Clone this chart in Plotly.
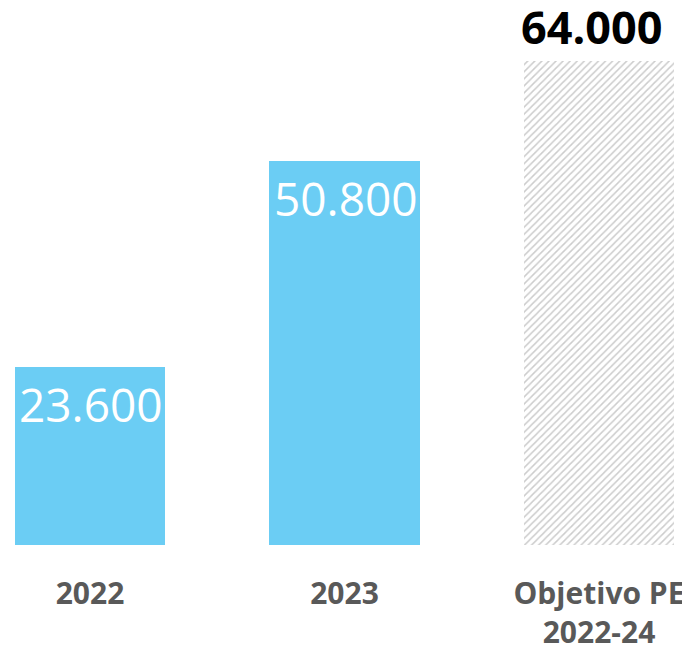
import plotly.graph_objects as go

categories = ["2022", "2023", "Objetivo PE<br>2022-24"]
values = [23600, 50800, 64000]
value_labels = ["23.600", "50.800", "64.000"]

x = list(range(len(categories)))
blue = "#6BCDF4"

fig = go.Figure()
fig.add_trace(go.Bar(
    x=x[:2], y=values[:2], width=0.59,
    marker=dict(color=blue, line=dict(width=0)),
    hoverinfo="skip",
))
fig.add_trace(go.Bar(
    x=x[2:], y=values[2:], width=0.59,
    marker=dict(color="white", line=dict(width=0),
                pattern=dict(shape="/", fgcolor="#9a9a9a", bgcolor="white",
                             size=5, solidity=0.3, fillmode="overlay")),
    hoverinfo="skip",
))

for i, (v, t) in enumerate(zip(values, value_labels)):
    inside = i < 2
    fig.add_annotation(
        x=i, y=v, text=t, showarrow=False,
        xanchor="center", yanchor="middle",
        yshift=-37 if inside else 35,
        xshift=1 if inside else -7,
        borderpad=0,
        font=dict(family="Open Sans", size=46 if inside else 45,
                  color="white" if inside else "black",
                  weight=500 if inside else "bold"),
        xref="x", yref="y",
    )

# page body adds an 8px offset; the figure is sized to compensate
fig.update_layout(
    width=682, height=641,
    margin=dict(l=0, r=0, t=0, b=104, autoexpand=False),
    paper_bgcolor="white", plot_bgcolor="white",
    showlegend=False, bargap=0,
    xaxis=dict(range=[-0.3222, 2.3576], tickmode="array", tickvals=x,
               ticktext=[f"<b>{c}</b>" for c in categories],
               showgrid=False, zeroline=False, showline=False, ticks="",
               automargin=False, ticklabelstandoff=28,
               tickfont=dict(family="Open Sans", size=30, color="#595959")),
    yaxis=dict(range=[0, 71045], visible=False, showgrid=False,
               zeroline=False, automargin=False),
)

fig.write_html("out.html")
